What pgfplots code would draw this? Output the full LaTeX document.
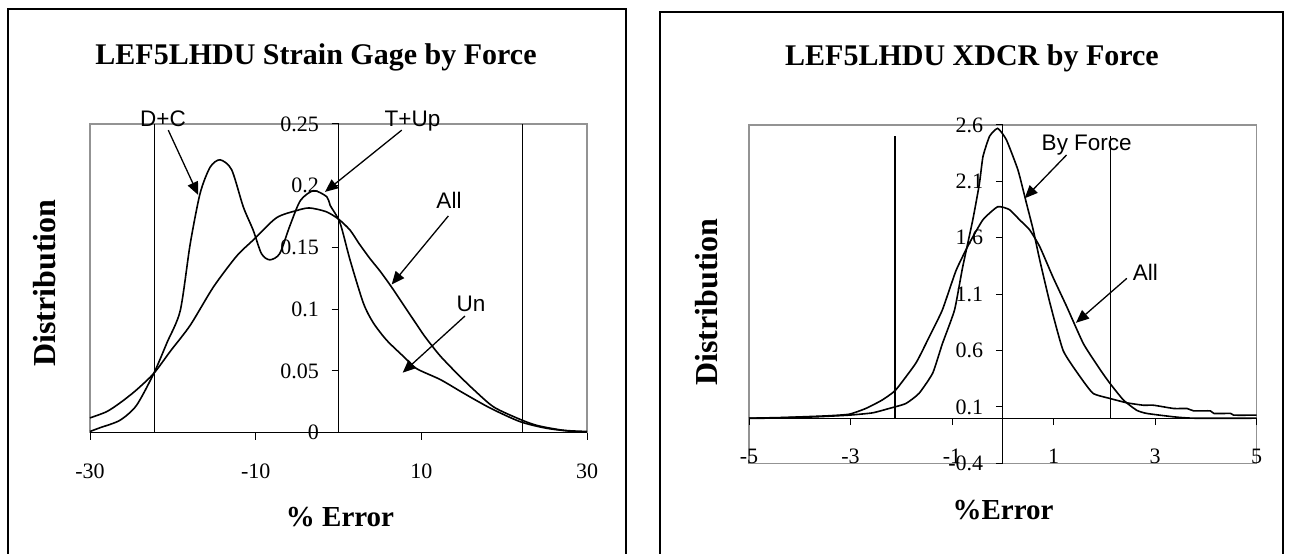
\documentclass[border=0pt]{standalone}
\usepackage{fontspec}
\setmainfont{Liberation Serif}
\newfontfamily\arial{Liberation Sans}
\usepackage{pgfplots}
\pgfplotsset{compat=1.18}
\usetikzlibrary{arrows.meta}
\pgfplotsset{
  chartbase/.style={
    scale only axis,
    axis lines=middle,
    axis line style={-, black, line width=1.3pt},
    axis background/.style={draw=gray!85, line width=1.4pt},
    tick align=outside,
    major tick length=7pt,
    tick style={black, line width=1pt},
    ticklabel style={font=\fontsize{22}{22}\selectfont},
    xticklabel style={anchor=base, yshift=-38.5pt},
    yticklabel style={anchor=east, xshift=-9pt},
    hide obscured x ticks=false,
    hide obscured y ticks=false,
    clip=false,
  },
  curve/.style={black, line width=1.6pt, no marks, smooth, tension=0.45},
  vline/.style={black, line width=1.5pt, no marks},
}
\tikzset{
  ann/.style={-{Triangle[length=13pt,width=11pt]}, line width=1.3pt, black},
  annt/.style={font=\arial\fontsize{22.5}{22.5}\selectfont, anchor=base},
}
\begin{document}
\begin{tikzpicture}[x=1pt,y=1pt]
% chart frames
\draw[line width=1.5pt] (8,-10) -- (8,545) -- (626,545) -- (626,-10);
\draw[line width=1.5pt] (660,-10) -- (660,542) -- (1283,542) -- (1283,-10);
% titles
\node[font=\fontsize{30}{30}\bfseries\selectfont] at (316,497) {LEF5LHDU Strain Gage by Force};
\node[font=\fontsize{30}{30}\bfseries\selectfont] at (972,496) {LEF5LHDU XDCR by Force};
\node[font=\fontsize{29}{29}\bfseries\selectfont] at (340,37.3) {\% Error};
\node[font=\fontsize{29}{29}\bfseries\selectfont] at (1003,44) {\%Error};
\node[font=\fontsize{32}{32}\bfseries\selectfont, rotate=90] at (44.7,271) {Distribution};
\node[font=\fontsize{32}{32}\bfseries\selectfont, rotate=90] at (707,252) {Distribution};

% ---------- left chart ----------
\begin{axis}[chartbase, at={(90pt,121.3pt)}, anchor=south west,
  width=497pt, height=308.7pt,
  xmin=-30, xmax=30, ymin=0, ymax=0.25,
  xtick={-30,-10,10,30}, xticklabels={-30,-10,10,30},
  ytick={0,0.05,0.1,0.15,0.2,0.25}, yticklabels={0,0.05,0.1,0.15,0.2,0.25}]
% All (broad)
\addplot[curve] table {
x y
-30 0.012
-28 0.017
-26.4 0.024
-24.5 0.034
-22.3 0.048
-20.3 0.066
-17.9 0.087
-15.1 0.118
-12.3 0.143
-10.3 0.156
-7.5 0.174
-5 0.180
-3.5 0.182
-1.5 0.179
0 0.173
1.4 0.164
2.5 0.153
3.8 0.141
5.0 0.131
6.4 0.118
8.2 0.100
10.2 0.080
11.1 0.072
12.3 0.062
14.3 0.048
16.3 0.035
18.7 0.021
21.5 0.012
23.9 0.006
27.1 0.002
30 0.001
};
% By force (D+C, T+Up, Un)
\addplot[curve] table {
x y
-30 0.001
-28.8 0.004
-26.4 0.010
-24.4 0.022
-22.3 0.048
-20.7 0.073
-19.1 0.099
-17.9 0.153
-16.7 0.194
-15.5 0.215
-14.3 0.221
-12.9 0.213
-11.5 0.183
-10.3 0.164
-9.3 0.145
-8.3 0.140
-7.1 0.145
-5.9 0.167
-4.6 0.188
-3.0 0.196
-1.4 0.191
-1.0 0.184
0.18 0.170
1.39 0.140
3.0 0.105
4.2 0.089
5.8 0.075
7.8 0.062
9.4 0.052
12.3 0.043
15.1 0.032
18.3 0.020
21.9 0.009
25.1 0.0036
28.3 0.001
30 0.0005
};
\addplot[vline] coordinates {(-22.2,0) (-22.2,0.25)};
\addplot[vline] coordinates {(22.2,0) (22.2,0.25)};
\node[annt] at (axis cs:-21.19,0.2478) {D+C};
\draw[ann] (axis cs:-20.55,0.245) -- (axis cs:-16.93,0.1925);
\node[annt] at (axis cs:8.93,0.2478) {T+Up};
\draw[ann] (axis cs:7.63,0.245) -- (axis cs:-1.63,0.195);
\node[annt] at (axis cs:13.34,0.1817) {All};
\draw[ann] (axis cs:13.26,0.1755) -- (axis cs:6.42,0.120);
\node[annt] at (axis cs:16.0,0.098) {Un};
\draw[ann] (axis cs:15.27,0.0945) -- (axis cs:7.75,0.0486);
\end{axis}

% ---------- right chart ----------
\begin{axis}[chartbase, at={(749pt,90.7pt)}, anchor=south west,
  width=507.5pt, height=338.3pt,
  xmin=-5, xmax=5, ymin=-0.4, ymax=2.6,
  xtick={-5,-3,-1,1,3,5}, xticklabels={-5,-3,-1,1,3,5},
  ytick={-0.4,0.1,0.6,1.1,1.6,2.1,2.6}, yticklabels={-0.4,0.1,0.6,1.1,1.6,2.1,2.6}]
% By Force
\addplot[curve, tension=0.3] table {
x y
-5 0.0
-4.68 0.0
-3.69 0.012
-3.03 0.027
-2.57 0.047
-2.24 0.086
-1.91 0.13
-1.65 0.22
-1.38 0.40
-1.19 0.66
-0.95 0.96
-0.79 1.34
-0.59 1.76
-0.46 2.08
-0.39 2.32
-0.26 2.50
-0.10 2.57
0.07 2.47
0.30 2.20
0.47 1.90
0.60 1.67
0.73 1.40
0.93 1.02
1.19 0.60
1.52 0.37
1.78 0.22
2.11 0.175
2.45 0.136
2.77 0.115
2.97 0.115
3.37 0.086
3.63 0.086
3.76 0.065
4.09 0.065
4.16 0.042
4.49 0.042
4.55 0.027
5.0 0.027
};
% All
\addplot[curve, tension=0.3] table {
x y
-5 0.0
-4.35 0.006
-3.5 0.02
-3.03 0.035
-2.70 0.086
-2.38 0.16
-2.11 0.25
-1.71 0.49
-1.45 0.72
-1.19 0.96
-0.92 1.31
-0.66 1.55
-0.39 1.76
-0.10 1.875
0.13 1.85
0.33 1.76
0.53 1.67
0.73 1.52
0.99 1.25
1.26 0.99
1.59 0.66
1.92 0.43
2.11 0.31
2.38 0.16
2.64 0.07
2.84 0.042
3.37 0.012
3.76 0.0
5.0 0.0
};
\addplot[vline] coordinates {(-2.12,0) (-2.12,2.5)};
\addplot[vline] coordinates {(2.12,0) (2.12,2.5)};
\node[annt] at (axis cs:1.655,2.372) {By Force};
\draw[ann] (axis cs:1.257,2.334) -- (axis cs:0.432,1.95);
\node[annt] at (axis cs:2.808,1.2245) {All};
\draw[ann] (axis cs:2.445,1.240) -- (axis cs:1.442,0.846);
\end{axis}
\pgfresetboundingbox
\useasboundingbox (0,0) rectangle (1291,554);
\end{tikzpicture}
\end{document}
